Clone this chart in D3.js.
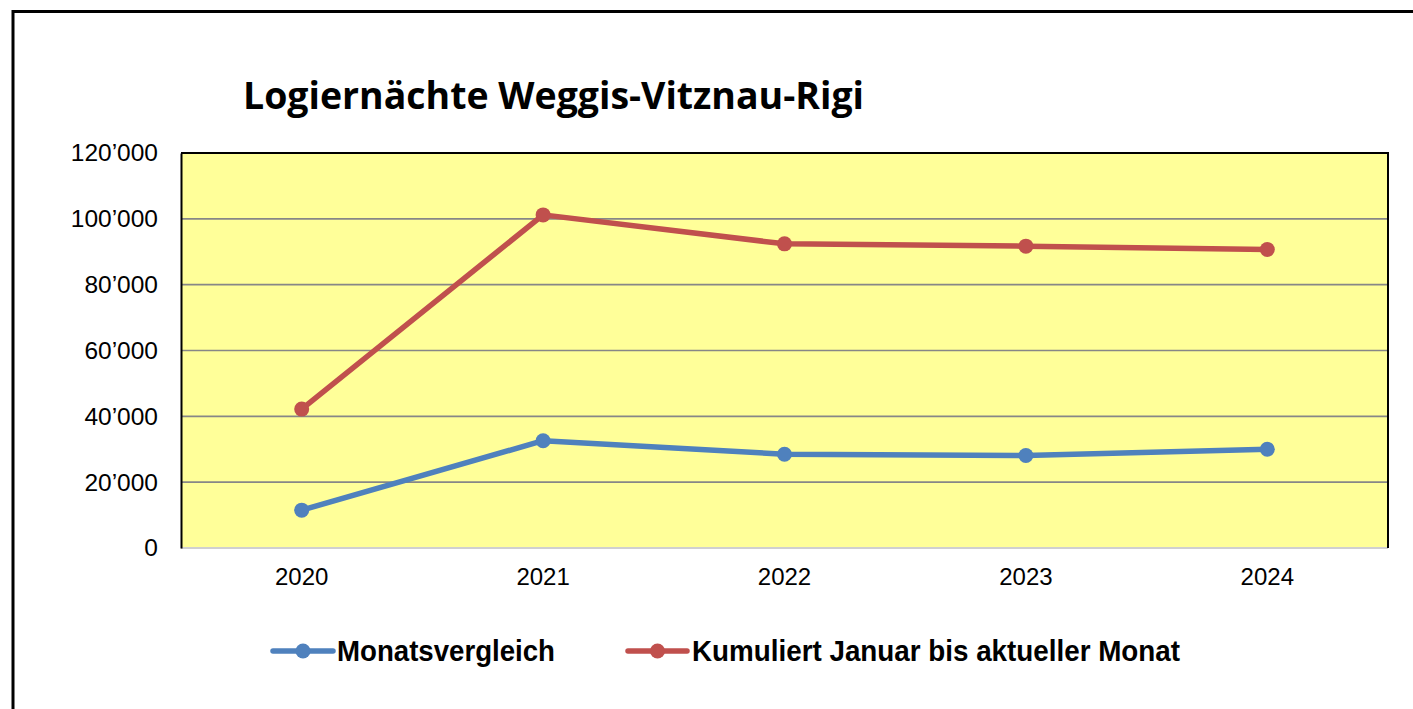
<!DOCTYPE html>
<html>
<head>
<meta charset="utf-8">
<script src="https://cdn.jsdelivr.net/npm/d3@7"></script>
<style>
  html, body { margin: 0; padding: 0; background: #fff; overflow: hidden; }
  svg { display: block; }
</style>
</head>
<body>
<svg width="1413" height="709"></svg>
<script>
// Data
const years = ["2020", "2021", "2022", "2023", "2024"];
const monatsvergleich = [11500, 32600, 28500, 28100, 30000];
const kumuliert = [42200, 101200, 92400, 91700, 90700];
const yTicks = [0, 20000, 40000, 60000, 80000, 100000, 120000];
const seriesNames = ["Monatsvergleich", "Kumuliert Januar bis aktueller Monat"];
const seriesColors = ["#4F81BD", "#C0504D"];

const width = 1413;
const height = 709;
const plot = { left: 181, top: 153, right: 1388, bottom: 548 };

const svg = d3.select("svg");

// outer frame (cut by the window on the right and bottom)
svg.append("rect")
  .attr("x", 13).attr("y", 11.5)
  .attr("width", width + 20).attr("height", height + 20)
  .attr("fill", "#fff")
  .attr("stroke", "#000")
  .attr("stroke-width", 3);

// title
svg.append("text")
  .attr("x", 243).attr("y", 109)
  .attr("font-family", "'Open Sans', 'DejaVu Sans', sans-serif")
  .attr("font-weight", 700)
  .attr("font-size", 37)
  .attr("textLength", 621)
  .attr("lengthAdjust", "spacingAndGlyphs")
  .attr("fill", "#000")
  .text("Logiernächte Weggis-Vitznau-Rigi");

// scales
const x = d3.scaleBand().domain(years).range([plot.left, plot.right]);
const y = d3.scaleLinear().domain([0, 120000]).range([plot.bottom, plot.top]);

const locale = d3.formatLocale({ decimal: ".", thousands: "’", grouping: [3], currency: ["", ""] });
const fmt = locale.format(",");

// plot background
svg.append("rect")
  .attr("x", plot.left).attr("y", plot.top)
  .attr("width", plot.right - plot.left).attr("height", plot.bottom - plot.top)
  .attr("fill", "#FFFF99");

// gridlines
svg.append("g")
  .selectAll("line")
  .data(yTicks.filter((d) => d > 0 && d < 120000))
  .join("line")
  .attr("x1", plot.left).attr("x2", plot.right)
  .attr("y1", (d) => y(d)).attr("y2", (d) => y(d))
  .attr("stroke", "#878787")
  .attr("stroke-width", 1.6);

// plot border: top / right black, bottom light grey, left black axis
svg.append("line")
  .attr("x1", plot.left).attr("x2", plot.right)
  .attr("y1", plot.bottom).attr("y2", plot.bottom)
  .attr("stroke", "#d0d0d0").attr("stroke-width", 2);
svg.append("path")
  .attr("d", `M${plot.left},${plot.top}H${plot.right}V${plot.bottom}`)
  .attr("fill", "none").attr("stroke", "#000").attr("stroke-width", 2);

// y axis
const yAxis = svg.append("g")
  .attr("transform", `translate(${plot.left},0)`)
  .call(d3.axisLeft(y).tickValues(yTicks).tickFormat(fmt).tickSize(0).tickPadding(23));
yAxis.select(".domain").attr("stroke", "#000").attr("stroke-width", 2);
yAxis.selectAll("text")
  .attr("font-family", "'Liberation Sans', Arial, sans-serif")
  .attr("font-size", 24.5)
  .attr("fill", "#000");

// x axis
const xAxis = svg.append("g")
  .attr("transform", `translate(0,${plot.bottom})`)
  .call(d3.axisBottom(x).tickSize(0).tickPadding(20));
xAxis.select(".domain").remove();
xAxis.selectAll("text")
  .attr("font-family", "'Liberation Sans', Arial, sans-serif")
  .attr("font-size", 24)
  .attr("fill", "#000");

// lines
const line = d3.line()
  .x((d, i) => x(years[i]) + x.bandwidth() / 2)
  .y((d) => y(d));

[monatsvergleich, kumuliert].forEach((values, k) => {
  const g = svg.append("g");
  g.append("path")
    .datum(values)
    .attr("d", line)
    .attr("fill", "none")
    .attr("stroke", seriesColors[k])
    .attr("stroke-width", 5.5)
    .attr("stroke-linejoin", "round");
  g.selectAll("circle")
    .data(values)
    .join("circle")
    .attr("cx", (d, i) => x(years[i]) + x.bandwidth() / 2)
    .attr("cy", (d) => y(d))
    .attr("r", 7.5)
    .attr("fill", seriesColors[k]);
});

// legend
const legendItems = [
  { x0: 273, x1: 333, tx: 337, tw: 218 },
  { x0: 628, x1: 687, tx: 692, tw: 488 },
];
const legendY = 651;
legendItems.forEach((it, k) => {
  const g = svg.append("g");
  g.append("line")
    .attr("x1", it.x0).attr("x2", it.x1)
    .attr("y1", legendY).attr("y2", legendY)
    .attr("stroke", seriesColors[k])
    .attr("stroke-width", 5.5)
    .attr("stroke-linecap", "round");
  g.append("circle")
    .attr("cx", (it.x0 + it.x1) / 2).attr("cy", legendY)
    .attr("r", 7.5)
    .attr("fill", seriesColors[k]);
  g.append("text")
    .attr("x", it.tx).attr("y", 661)
    .attr("font-family", "'Liberation Sans', Arial, sans-serif")
    .attr("font-weight", 700)
    .attr("font-size", 30)
    .attr("textLength", it.tw)
    .attr("lengthAdjust", "spacingAndGlyphs")
    .attr("fill", "#000")
    .text(seriesNames[k]);
});
</script>
</body>
</html>
